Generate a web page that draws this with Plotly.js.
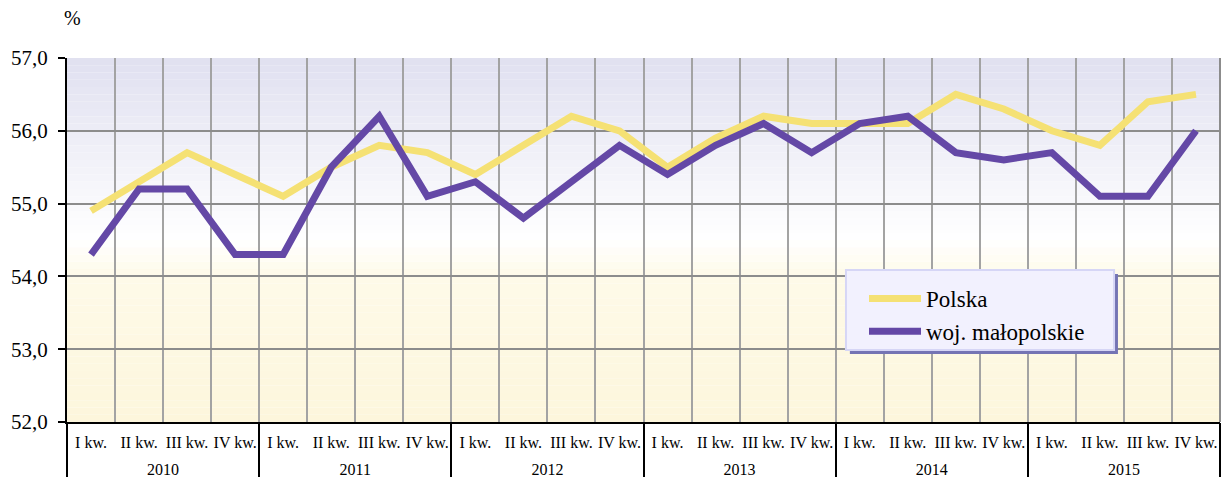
<!DOCTYPE html>
<html>
<head>
<meta charset="utf-8">
<script src="https://cdn.plot.ly/plotly-3.0.1.min.js"></script>
<style>html,body{margin:0;padding:0;background:#fff;}#chart{width:1224px;height:477px;}</style>
</head>
<body>
<div id="chart"></div>
<script>
const years = ['2010', '2011', '2012', '2013', '2014', '2015'];
const quarters = ['I kw.', 'II kw.', 'III kw.', 'IV kw.'];
const polska = [54.9, 55.3, 55.7, 55.4, 55.1, 55.5, 55.8, 55.7, 55.4, 55.8, 56.2, 56.0,
                55.5, 55.9, 56.2, 56.1, 56.1, 56.1, 56.5, 56.3, 56.0, 55.8, 56.4, 56.5];
const malopolskie = [54.3, 55.2, 55.2, 54.3, 54.3, 55.5, 56.2, 55.1, 55.3, 54.8, 55.3, 55.8,
                     55.4, 55.8, 56.1, 55.7, 56.1, 56.2, 55.7, 55.6, 55.7, 55.1, 55.1, 56.0];
const seriesNames = ['Polska', 'woj. małopolskie'];
const yTicks = [52, 53, 54, 55, 56, 57];

// quarter positions (index of each quarter) and labels built from the arrays
const xPos = [], qText = [], yearPos = [];
years.forEach((y, yi) => {
  quarters.forEach((q, qi) => { xPos.push(yi * quarters.length + qi); qText.push(q); });
  yearPos.push(yi * quarters.length + (quarters.length - 1) / 2);
});
const nCat = xPos.length;
const xRange = [-0.5, nCat - 0.5];

const FONT = 'Liberation Serif, Times New Roman, serif';

// background gradient bands
function lerp(a, b, t) { return Math.round(a + (b - a) * t); }
function mix(c1, c2, t) { return 'rgb(' + lerp(c1[0], c2[0], t) + ',' + lerp(c1[1], c2[1], t) + ',' + lerp(c1[2], c2[2], t) + ')'; }
const shapes = [];
const cTop = [224, 224, 240], cMid = [255, 255, 255], cCream1 = [254, 250, 232], cCream2 = [253, 246, 220];
const N = 50;
for (let i = 0; i < N; i++) {
  const y0 = 52 + 5 * i / N, y1 = 52 + 5 * (i + 1) / N, yc = (y0 + y1) / 2;
  let col;
  if (yc >= 54.5) col = mix(cMid, cTop, (yc - 54.5) / 2.5);
  else if (yc >= 54) col = mix(cCream1, cMid, (yc - 54) / 0.5);
  else col = mix(cCream2, cCream1, (yc - 52) / 2);
  shapes.push({type: 'rect', xref: 'paper', yref: 'y', x0: 0, x1: 1, y0: y0, y1: y1,
    fillcolor: col, line: {width: 0}, layer: 'below'});
}
// right border
shapes.push({type: 'line', xref: 'paper', yref: 'paper', x0: 1, x1: 1, y0: 0, y1: 1,
  line: {color: '#8c8c8c', width: 2}, layer: 'below'});
// legend box with shadow
shapes.push({type: 'rect', xref: 'paper', yref: 'paper', x0: 0.679, x1: 0.9115, y0: 0.1868, y1: 0.4066,
  fillcolor: '#7474b4', line: {width: 0}, layer: 'above'});
shapes.push({type: 'rect', xref: 'paper', yref: 'paper', x0: 0.6756, x1: 0.9081, y0: 0.1978, y1: 0.4176,
  fillcolor: '#f2f1fe', line: {color: '#d6d6f6', width: 2}, layer: 'above'});

const data = [
  {x: xPos, y: polska, name: seriesNames[0], type: 'scatter', mode: 'lines',
   line: {color: '#f5e174', width: 7}},
  {x: xPos, y: malopolskie, name: seriesNames[1], type: 'scatter', mode: 'lines', xaxis: 'x2',
   line: {color: '#6448a6', width: 7}}
];

const layout = {
  width: 1224, height: 477,
  margin: {l: 67, r: 4, t: 58, b: 55},
  paper_bgcolor: '#ffffff',
  plot_bgcolor: 'rgba(0,0,0,0)',
  separators: ', ',
  font: {family: FONT, color: '#000'},
  showlegend: true,
  legend: {x: (864 - 67) / 1153, y: 0.3985, xanchor: 'left', yanchor: 'top', bgcolor: 'rgba(0,0,0,0)',
    borderwidth: 0, font: {family: FONT, size: 23, color: '#000'}, itemwidth: 52},
  xaxis: {
    range: xRange, tickvals: xPos, ticktext: qText,
    showgrid: false, zeroline: false,
    showline: true, linecolor: '#000', linewidth: 2,
    ticks: '', ticklabelstandoff: 5,
    tickfont: {family: FONT, size: 16, color: '#000'}, fixedrange: true,
    minor: {tick0: -0.5, dtick: 1, showgrid: true, gridcolor: '#a3a3a3', gridwidth: 2, ticks: ''}
  },
  xaxis2: {
    overlaying: 'x', anchor: 'y', side: 'bottom',
    range: xRange, tickvals: yearPos, ticktext: years,
    showgrid: false, zeroline: false, showline: false,
    ticks: '', ticklabelstandoff: 36,
    tickfont: {family: FONT, size: 16, color: '#000'}, fixedrange: true,
    minor: {tick0: -0.5, dtick: quarters.length, ticks: 'outside', ticklen: 56, tickwidth: 2, tickcolor: '#000', showgrid: false}
  },
  yaxis: {
    range: [52, 57], tickvals: yTicks, tickformat: '.1f',
    showgrid: true, gridcolor: '#8c8c8c', gridwidth: 2,
    showline: true, linecolor: '#000', linewidth: 2,
    ticks: 'outside', ticklen: 7, tickwidth: 2, tickcolor: '#000', ticklabelstandoff: 6,
    tickfont: {family: FONT, size: 21, color: '#000'}, zeroline: false, fixedrange: true
  },
  shapes: shapes,
  annotations: [{text: '%', xref: 'paper', yref: 'paper', x: 0.0052, y: 1.11, xanchor: 'center', yanchor: 'middle',
    showarrow: false, font: {family: FONT, size: 20, color: '#000'}}]
};

Plotly.newPlot('chart', data, layout, {displayModeBar: false, staticPlot: true});
</script>
</body>
</html>
